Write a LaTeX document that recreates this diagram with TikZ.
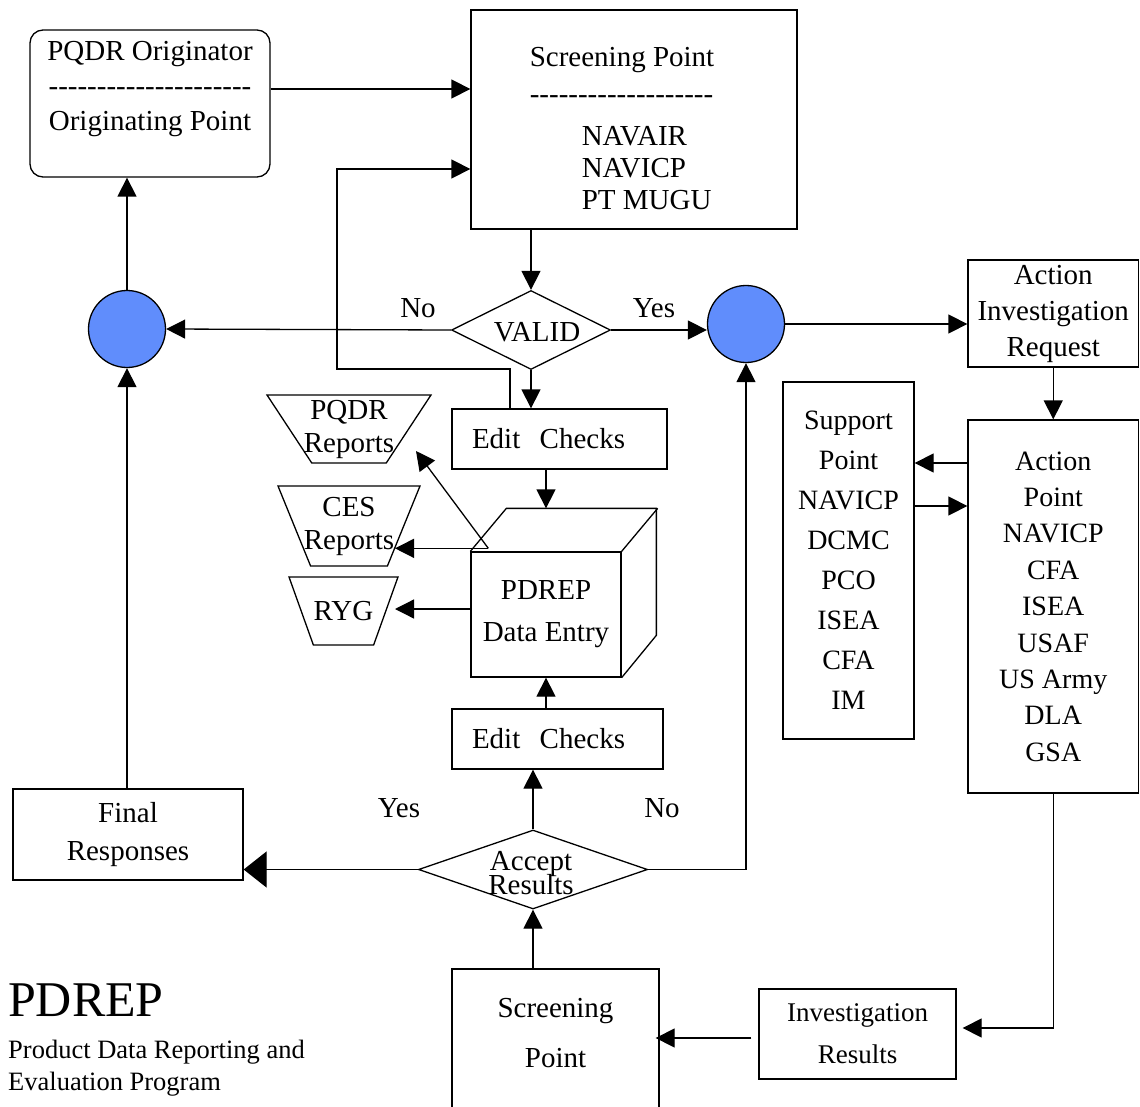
\documentclass[tikz,border=0pt]{standalone}
\usepackage{fontspec}
\setmainfont{Liberation Serif}
\usepackage{tikz}
\usetikzlibrary{shapes.geometric,arrows.meta,positioning}
\definecolor{pointblue}{RGB}{96,141,252}
\newcommand{\dashrule}[1]{\foreach \i in {1,...,#1}{-}}
\newcommand{\tightlines}{\setlength{\lineskiplimit}{-50pt}}
\tikzset{>={Triangle[length=19pt,width=19pt]}}
\tikzstyle{arrow}  = [->,
                      line width=1.3pt]
\tikzstyle{bigarrow} = [-{Triangle[length=23pt,width=36pt]},
                        line width=1.3pt]
\tikzstyle{block}=[
                   draw,
                   rectangle,
                   line width=1.3pt,
                   inner sep=0pt,
                   align=center,
                   font=\fontsize{29}{36}\selectfont
                  ]
\tikzstyle{decision}=[
                      draw,
                      diamond,
                      line width=1.3pt,
                      inner sep=0pt
                     ]
\tikzstyle{junction}=[
                      draw,
                      circle,
                      fill=pointblue,
                      line width=1.3pt,
                      minimum size=77pt,
                      inner sep=0pt
                     ]
\tikzstyle{report}=[
                    draw,
                    trapezium,
                    shape border rotate=180,
                    trapezium stretches=true,
                    line width=1.3pt,
                    inner sep=2pt
                   ]
\tikzstyle{tag}=[
                 inner sep=0pt,
                 align=center,
                 font=\fontsize{29}{36}\selectfont
                ]

\begin{document}
\begin{tikzpicture}[x=1pt, y=-1pt]

  \useasboundingbox (0,0) rectangle (1140,1107);
  \clip (0,0) rectangle (1140,1107);

  % Nodes
  \node[block, rounded corners=13pt, minimum width=240pt, minimum height=147pt,
    label={[tag, yshift=14.5pt, font=\fontsize{29}{35}\selectfont]center:{PQDR Originator\\\dashrule{21}\\Originating Point}}] (orig) at (150,103.5) {};
  \node[block, minimum width=326pt, minimum height=219pt,
    label={[tag, align=left, xshift=-12pt, yshift=-9pt, font=\fontsize{29}{32}\selectfont]center:{Screening Point\\[5pt]\dashrule{19}\\[10pt]\hspace*{52pt}NAVAIR\\\hspace*{52pt}NAVICP\\\hspace*{52pt}PT MUGU}}] (scrtop) at (634,119.5) {};
  \node[decision, minimum width=159pt, minimum height=79pt,
    label={[tag, xshift=6pt, yshift=-2pt]center:VALID}] (valid) at (531,330) {};
  \node[junction] (nocirc) at (127,329) {};
  \node[junction] (yescirc) at (746,324) {};
  \node[block, minimum width=170.5pt, minimum height=107pt] (air) at (1053.25,313.5) {Action\\Investigation\\Request};
  \node[block, minimum width=170.5pt, minimum height=373pt, font=\fontsize{28}{36.4}\selectfont] (actpt) at (1053.25,606.5)
    {Action\\Point\\NAVICP\\CFA\\ISEA\\USAF\\US Army\\DLA\\GSA};
  \node[block, minimum width=131pt, minimum height=357pt, font=\fontsize{28}{40}\selectfont] (support) at (848.5,560.5)
    {Support\\Point\\NAVICP\\DCMC\\PCO\\ISEA\\CFA\\IM};
  \node[block, minimum width=215pt, minimum height=60pt, text width=175pt, align=left] (edit1) at (559.5,439) {Edit\ \ Checks};
  \node[block, minimum width=150pt, minimum height=125pt, font=\fontsize{29}{42}\selectfont] (pdrep) at (546,614.5) {PDREP\\Data Entry};
  \node[report, minimum width=164pt, minimum height=68pt, trapezium angle=59,
    label={[tag, font=\fontsize{29}{33}\selectfont]center:{PQDR\\Reports}}] (pqdr) at (349,429) {};
  \node[report, minimum width=142pt, minimum height=80pt, trapezium angle=67,
    label={[tag, font=\fontsize{29}{33}\selectfont]center:{CES\\Reports}}] (ces) at (349,526) {};
  \node[report, minimum width=109pt, minimum height=68pt, trapezium angle=68,
    label={[tag]center:RYG}] (ryg) at (343.5,611) {};
  \node[block, minimum width=211pt, minimum height=60pt, text width=171pt, align=left] (edit2) at (557.5,739) {Edit\ \ Checks};
  \node[decision, minimum width=229pt, minimum height=79pt,
    label={[tag, xshift=-2pt, yshift=-4pt, font=\fontsize{29}{24}\selectfont\tightlines]center:{Accept\\Results}}] (accept) at (533,869.5) {};
  \node[block, minimum width=230pt, minimum height=91pt, font=\fontsize{29}{38}\selectfont] (final) at (128,834.5) {Final\\Responses};
  \node[block, minimum width=207pt, minimum height=151pt,
    label={[tag, yshift=11pt, font=\fontsize{29}{50}\selectfont]center:{Screening\\Point}}] (scrbot) at (555.5,1044.5) {};
  \node[block, minimum width=197pt, minimum height=90pt, font=\fontsize{27}{42}\selectfont] (invres) at (857.5,1034) {Investigation\\Results};

  \node[tag] (nolbl) at (418,308) {No};
  \node[tag] (yeslbl) at (654,308) {Yes};
  \node[tag] (yesres) at (399,808) {Yes};
  \node[tag] (nores) at (662,808) {No};

  \node[tag, anchor=base west, font=\fontsize{50}{60}\selectfont] (title) at (8,1016) {PDREP};
  \node[tag, anchor=base west, align=left, font=\fontsize{26.5}{32}\selectfont] (subtitle) at (8,1090)
    {Product Data Reporting and\\Evaluation Program};

  % Cube
  \draw[line width=1.3pt] (pdrep.north west) -- ++(36,-43) -- ++(150,0) -- ++(0,127) -- (pdrep.south east);
  \draw[line width=1.3pt] (pdrep.north east) -- ++(36,-43);

  % Edges
  \coordinate (loopturn) at (337,369);
  \coordinate (pdout) at ([shift={(18pt,3pt)}]pdrep.north west);
  \draw[arrow] ([yshift=14.5pt]orig.east) -- ([yshift=14.5pt]orig.east -| scrtop.west);
  \draw[arrow] ([xshift=-49.5pt]edit1.north) |- (loopturn) |- ([yshift=-49.5pt]scrtop.west);
  \draw[arrow] (scrtop.south -| valid.north) -- (valid.north);
  \draw[arrow] (valid.west) -- (nocirc.east);
  \draw[arrow] (valid.east) -- (valid.east -| yescirc.west);
  \draw[arrow] (valid.south) -- (valid.south |- edit1.north);
  \draw[arrow] (yescirc.east) -- (yescirc.east -| air.west);
  \draw[arrow] (air.south) -- (actpt.north);
  \draw[arrow] ([yshift=143.5pt]actpt.west) -- ([yshift=143.5pt]actpt.west -| support.east);
  \draw[arrow] ([yshift=100.5pt]actpt.west -| support.east) -- ([yshift=100.5pt]actpt.west);
  \draw[arrow, shorten >=6pt] (actpt.south) |- ([yshift=6pt]invres.east);
  \draw[arrow, shorten <=7pt, shorten >=-4pt] ([yshift=-4pt]invres.west) -- ([yshift=-4pt]invres.west -| scrbot.east);
  \draw[arrow] (accept.south |- scrbot.north) -- (accept.south);
  \draw[arrow] (accept.north) -- (accept.north |- edit2.south);
  \draw[arrow] (edit2.north -| pdrep.south) -- (pdrep.south);
  \draw[arrow] (edit1.south -| pdrep.north) -- ([yshift=43pt]pdrep.north);
  \draw[bigarrow] (accept.west) -- (accept.west -| final.east);
  \draw[arrow] (accept.east) -| (yescirc.south);
  \draw[arrow] (final.north -| nocirc.south) -- (nocirc.south);
  \draw[arrow] (nocirc.north) -- (nocirc.north |- orig.south);
  \draw[arrow] (pdout) -- ([shift={(67pt,-22pt)}]pqdr.center);
  \draw[arrow] (pdout) -- ([xshift=46pt]pdout -| ces.center);
  \draw[arrow] ([yshift=5.5pt]pdrep.west) -- ([yshift=5.5pt, xshift=51.5pt]pdrep.west -| ryg.center);

\end{tikzpicture}
\end{document}
